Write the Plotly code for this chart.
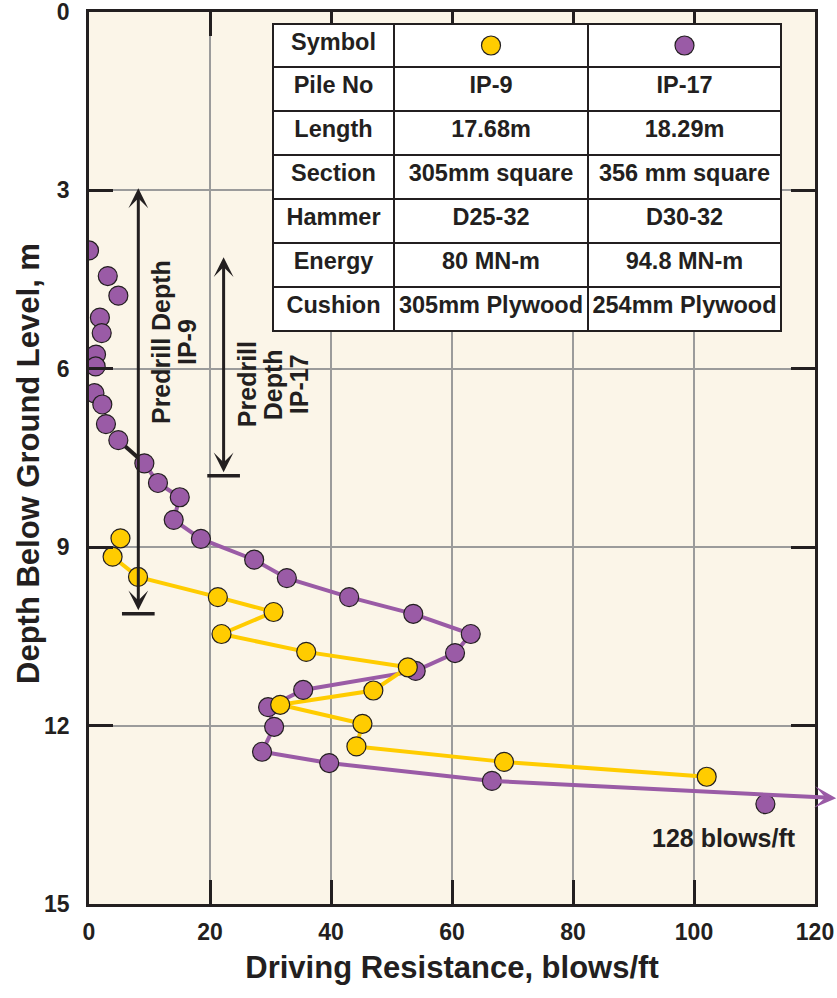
import plotly.graph_objects as go

# ---------------- data ----------------
# IP-9 (yellow)
ip9_blows = [5.2, 3.9, 8.1, 21.3, 30.5, 21.9, 35.9, 52.7, 47.0, 31.6, 45.2, 44.2, 68.6, 102.1]
ip9_depth = [8.85, 9.16, 9.50, 9.84, 10.09, 10.46, 10.76, 11.02, 11.41, 11.65, 11.97, 12.35, 12.61, 12.86]

# IP-17 (purple)
ip17_blows = [0.0, 3.1, 4.85, 1.8, 2.1, 1.16, 1.1, 0.9, 2.2, 2.8, 4.85, 9.15, 11.4, 15.0, 14.0, 18.5,
              27.3, 32.7, 43.0, 53.6, 63.1, 60.5, 54.0, 35.4, 29.6, 30.6, 28.6, 39.7, 66.6, 111.8]
ip17_depth = [4.01, 4.44, 4.77, 5.14, 5.40, 5.76, 5.96, 6.41, 6.60, 6.93, 7.20, 7.59, 7.92, 8.16, 8.54, 8.86,
              9.21, 9.52, 9.84, 10.12, 10.46, 10.78, 11.08, 11.40, 11.69, 12.02, 12.44, 12.63, 12.93, 13.32]
ip17_offchart_label = "128 blows/ft"

# predrill depths
predrill_piles = ["IP-9", "IP-17"]
predrill_depth = [10.12, 7.80]

# table
table_rows = ["Pile No", "Length", "Section", "Hammer", "Energy", "Cushion"]
table_ip9 = ["IP-9", "17.68m", "305mm square", "D25-32", "80 MN-m", "305mm Plywood"]
table_ip17 = ["IP-17", "18.29m", "356 mm square", "D30-32", "94.8 MN-m", "254mm Plywood"]

x_ticks = [0, 20, 40, 60, 80, 100, 120]
y_ticks = [0, 3, 6, 9, 12, 15]

# ---------------- style ----------------
YEL = "#FFCC00"
PUR = "#9A5BA6"
INK = "#231F20"
FONT = "Liberation Sans"
BG = "#FBF5E8"

W, H = 837, 998
ML, MR, MT, MB = 89, 22, 12, 94
PW, PH = W - ML - MR, H - MT - MB

fig = go.Figure()

# lines
fig.add_trace(go.Scatter(x=ip17_blows[11:29], y=ip17_depth[11:29], mode="lines",
                         line=dict(color=PUR, width=4), hoverinfo="skip", showlegend=False))
fig.add_trace(go.Scatter(x=ip17_blows[10:12], y=ip17_depth[10:12], mode="lines",
                         line=dict(color=INK, width=4), hoverinfo="skip", showlegend=False))
fig.add_trace(go.Scatter(x=ip9_blows[1:], y=ip9_depth[1:], mode="lines",
                         line=dict(color=YEL, width=4), hoverinfo="skip", showlegend=False))
# markers
fig.add_trace(go.Scatter(x=ip17_blows, y=ip17_depth, mode="markers",
                         marker=dict(size=19, color=PUR, line=dict(color=INK, width=1.2)),
                         name="IP-17", showlegend=False))
fig.add_trace(go.Scatter(x=ip9_blows, y=ip9_depth, mode="markers",
                         marker=dict(size=19, color=YEL, line=dict(color=INK, width=1.2)),
                         name="IP-9", showlegend=False))

# off-chart arrow for IP-17
fig.add_annotation(x=123.5, y=13.22, ax=ip17_blows[28], ay=ip17_depth[28], axref="x", ayref="y",
                   xref="x", yref="y", text="", showarrow=True, arrowhead=3, arrowsize=0.9,
                   arrowwidth=4, arrowcolor=PUR, standoff=0, startstandoff=0)
fig.add_annotation(x=105, y=13.89, xref="x", yref="y", text=ip17_offchart_label, showarrow=False,
                   font=dict(family=FONT, size=25, color=INK, weight="bold"))

# predrill arrows
arrow_x = [8.15, 22.25]
arrow_top = [2.59, 3.75]
for px_, top, bot in zip(arrow_x, arrow_top, predrill_depth):
    fig.add_annotation(x=px_, y=bot - 0.06, ax=px_, ay=top + 0.35, axref="x", ayref="y",
                       xref="x", yref="y", text="", showarrow=True, arrowhead=3, arrowsize=1.1,
                       arrowside="end+start", arrowwidth=3, arrowcolor=INK, standoff=0, startstandoff=0)
    fig.add_shape(type="line", x0=px_ - 2.7, x1=px_ + 2.7, y0=bot, y1=bot, xref="x", yref="y",
                  line=dict(color=INK, width=3.5))

label_blocks = [(["Predrill Depth", "IP-9"], 14.05, 5.55),
                (["Predrill", "Depth", "IP-17"], 30.4, 6.26)]
for lines, cx, cy in label_blocks:
    n = len(lines)
    for i, t in enumerate(lines):
        fig.add_annotation(x=cx, y=cy, xref="x", yref="y", text=t, showarrow=False, textangle=-90,
                           xshift=(i - (n - 1) / 2) * 26,
                           font=dict(family=FONT, size=25, color=INK, weight="bold"))

# y-axis title (as annotation for exact placement)
fig.add_annotation(x=(28 - ML) / PW, y=(MT + PH - 464) / PH, xref="paper", yref="paper",
                   text="Depth Below Ground Level, m", showarrow=False, textangle=-90,
                   xanchor="center", yanchor="middle",
                   font=dict(family=FONT, size=31, color=INK, weight="bold"))

# table
nb = lambda s: s.replace(" ", "\u00a0")
col_w = [121, 194, 193]
tx0, ty0 = 273, 24
tx1 = tx0 + sum(col_w)
dom_x = [(tx0 - ML) / PW, (tx1 - ML) / PW]
dom_y = [0.5, (MT + PH - ty0) / PH]
tfont = dict(family=FONT, size=23.5, color=INK, weight="bold")
fig.add_trace(go.Table(
    domain=dict(x=dom_x, y=dom_y),
    columnwidth=col_w,
    header=dict(values=["Symbol", "", ""], height=43, align="center",
                fill=dict(color="white"), line=dict(color=INK, width=2), font=tfont),
    cells=dict(values=[[nb(s) for s in table_rows], [nb(s) for s in table_ip9],
                       [nb(s) for s in table_ip17]],
               height=44, align="center",
               fill=dict(color="white"), line=dict(color=INK, width=2), font=tfont),
))
# symbols in the table header (shapes drawn above the table)
sym_cx = [tx0 + col_w[0] + col_w[1] / 2, tx0 + col_w[0] + col_w[1] + col_w[2] / 2]
sym_cy = ty0 + 21.5
for cx, col in zip(sym_cx, [YEL, PUR]):
    fig.add_shape(type="circle", xref="paper", yref="paper", layer="above",
                  xsizemode="pixel", ysizemode="pixel",
                  xanchor=(cx - ML) / PW, yanchor=(MT + PH - sym_cy) / PH,
                  x0=-9.5, x1=9.5, y0=-9.5, y1=9.5,
                  fillcolor=col, line=dict(color=INK, width=1.2))

axis_common = dict(showgrid=True, gridcolor="#9B9B9B", gridwidth=1.5, zeroline=False,
                   ticks="inside", ticklen=24, tickwidth=3, tickcolor=INK,
                   showline=True, linewidth=2.5, linecolor=INK, mirror="ticks", automargin=False,
                   ticklabeloverflow="allow",
                   tickfont=dict(family=FONT, size=23, color=INK, weight="bold"))

fig.update_layout(
    width=W, height=H, margin=dict(l=ML, r=MR, t=MT, b=MB),
    paper_bgcolor="white", plot_bgcolor=BG,
    xaxis=dict(range=[0, 120], tickvals=x_ticks, ticklabelstandoff=6,
               title=dict(text="Driving Resistance, blows/ft", standoff=12,
                          font=dict(family=FONT, size=31, color=INK, weight="bold")),
               **axis_common),
    yaxis=dict(range=[15, 0], tickvals=y_ticks, ticklabelstandoff=12, **axis_common),
)

fig.write_html("out.html", config={"displayModeBar": False},
               post_script="document.body.style.margin='0';document.body.style.overflow='hidden';")
